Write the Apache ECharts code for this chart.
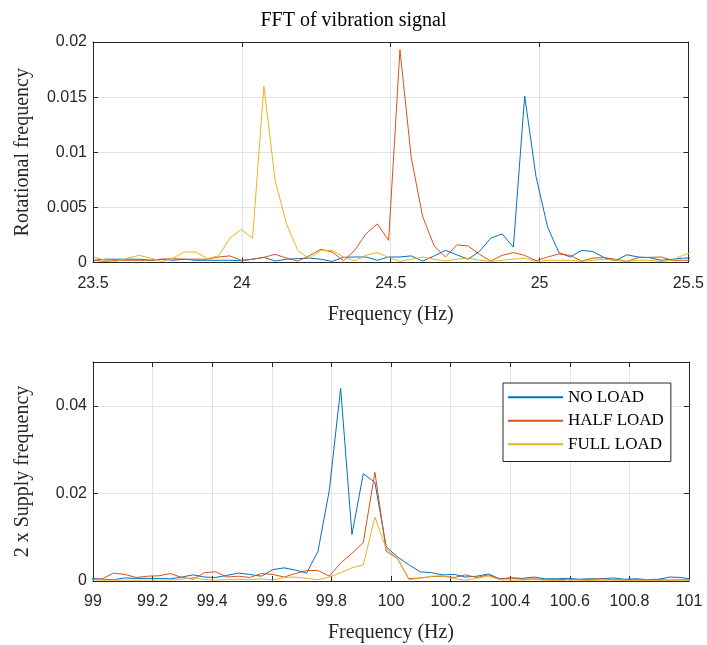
<!DOCTYPE html>
<html lang="en">
<head>
    <meta charset="UTF-8">
    <script src="https://cdn.jsdelivr.net/npm/echarts@6/dist/echarts.min.js"></script>
    <title>FFT of vibration signal</title>
    <style>
        html, body { margin: 0; padding: 0; background: #fff; }
        #chart { width: 707px; height: 645px; }
    </style>
</head>
<body>
<div id="chart"></div>
<script type="text/javascript">
    // top panel: around rotational frequency (Hz)
    var topFreq = [23.503, 23.541, 23.579, 23.617, 23.655, 23.693, 23.731, 23.769, 23.807, 23.846,
        23.884, 23.922, 23.960, 23.998, 24.036, 24.074, 24.112, 24.150, 24.188, 24.226,
        24.265, 24.303, 24.341, 24.379, 24.417, 24.455, 24.493, 24.531, 24.569, 24.607,
        24.646, 24.684, 24.722, 24.760, 24.798, 24.836, 24.874, 24.912, 24.950, 24.988,
        25.027, 25.065, 25.103, 25.141, 25.179, 25.217, 25.255, 25.293, 25.331, 25.369,
        25.408, 25.446, 25.484, 25.522];
    var topNoLoad = [0.0002, 0.0003, 0.0003, 0.0003, 0.0003, 0.0002, 0.0003, 0.0002, 0.0003, 0.0002,
        0.0002, 0.0002, 0.0002, 0.00016, 0.0003, 0.00047, 0.00013, 0.0003, 0.00035, 0.0004,
        0.0003, 0.0001, 0.00047, 0.0005, 0.0005, 0.0002, 0.0005, 0.0005, 0.0006, 0.00013,
        0.0006, 0.0011, 0.0007, 0.0003, 0.001, 0.0022, 0.0026, 0.0014, 0.0151, 0.0078,
        0.0032, 0.0009, 0.0005, 0.0011, 0.001, 0.00044, 0.00016, 0.0007, 0.0005, 0.00044,
        0.0002, 0.0003, 0.0004, 0.0004];
    var topHalfLoad = [0.0002, 0.0001, 0.0002, 0.0002, 0.0002, 0.0002, 0.0003, 0.00035, 0.0003, 0.0003,
        0.0003, 0.0005, 0.0006, 0.0002, 0.0003, 0.00047, 0.00074, 0.0004, 0.00013, 0.0006,
        0.0012, 0.00095, 0.00016, 0.0011, 0.0026, 0.0035, 0.002, 0.0193, 0.0095, 0.0042,
        0.0015, 0.0005, 0.0016, 0.0015, 0.00074, 0.00013, 0.00065, 0.0009, 0.00065, 0.00016,
        0.0005, 0.00077, 0.00065, 0.00013, 0.0004, 0.00044, 0.0003, 0.0001, 0.00044, 0.00047,
        0.0005, 0.0002, 0.0002, 0.0002];
    var topFullLoad = [0.0005, 0.0002, 0.0001, 0.0004, 0.00065, 0.0004, 0.0001, 0.0004, 0.00095, 0.00095,
        0.00035, 0.0006, 0.0022, 0.003, 0.0022, 0.016, 0.0074, 0.0035, 0.0011, 0.00035,
        0.0011, 0.0011, 0.0005, 0.00015, 0.00065, 0.0009, 0.00045, 0.0001, 0.0003, 0.0005,
        0.0003, 0.00013, 0.0003, 0.0004, 0.0002, 0.0001, 0.0002, 0.0003, 0.0004, 0.0001,
        0.0002, 0.0002, 0.0002, 0.0001, 0.0002, 0.0003, 0.0002, 0.0001, 0.0002, 0.0002,
        0.0001, 0.0002, 0.0007, 0.001];

    // bottom panel: around 2 x supply frequency (Hz)
    var botFreq = [98.993, 99.031, 99.069, 99.107, 99.145, 99.184, 99.222, 99.260, 99.298, 99.336,
        99.374, 99.412, 99.450, 99.488, 99.526, 99.565, 99.603, 99.641, 99.679, 99.717,
        99.755, 99.793, 99.831, 99.869, 99.907, 99.946, 99.984, 100.022, 100.060, 100.098,
        100.136, 100.174, 100.212, 100.250, 100.288, 100.327, 100.365, 100.403, 100.441, 100.479,
        100.517, 100.555, 100.593, 100.631, 100.669, 100.708, 100.746, 100.784, 100.822, 100.860,
        100.898, 100.936, 100.974, 101.012];
    var botNoLoad = [0.0006, 0.0004, 0.0003, 0.0007, 0.0006, 0.0006, 0.0006, 0.0005, 0.0009, 0.0014,
        0.0009, 0.0008, 0.0013, 0.0018, 0.0015, 0.0011, 0.0026, 0.003, 0.0025, 0.0018,
        0.0068, 0.0207, 0.044, 0.0106, 0.0245, 0.0225, 0.0078, 0.0055, 0.0037, 0.0021,
        0.0019, 0.0014, 0.0015, 0.0009, 0.0011, 0.0016, 0.0005, 0.0007, 0.0006, 0.0009,
        0.0005, 0.0005, 0.0006, 0.0004, 0.0005, 0.0005, 0.0007, 0.0004, 0.0005, 0.0003,
        0.0004, 0.0009, 0.0008, 0.0004];
    var botHalfLoad = [0.0003, 0.0005, 0.0018, 0.0015, 0.0008, 0.0011, 0.0012, 0.0017, 0.0008, 0.0004,
        0.0019, 0.0021, 0.0009, 0.0011, 0.0008, 0.0017, 0.0015, 0.0009, 0.0017, 0.0024,
        0.0024, 0.0011, 0.0041, 0.0063, 0.0088, 0.0248, 0.0068, 0.0051, 0.0005, 0.0007,
        0.001, 0.0011, 0.0008, 0.0014, 0.0008, 0.0014, 0.0004, 0.0007, 0.0004, 0.0005,
        0.0003, 0.0003, 0.0004, 0.0003, 0.0004, 0.0005, 0.0003, 0.0002, 0.0003, 0.0002,
        0.0003, 0.0002, 0.0003, 0.0002];
    var botFullLoad = [0.0003, 0.0002, 0.0002, 0.0002, 0.0002, 0.0002, 0.0002, 0.0002, 0.0004, 0.0008,
        0.0003, 0.0002, 0.0003, 0.0004, 0.0003, 0.0005, 0.0002, 0.0008, 0.0009, 0.0006,
        0.0003, 0.0009, 0.0019, 0.003, 0.0037, 0.0146, 0.0074, 0.0051, 0.0003, 0.0006,
        0.0011, 0.0012, 0.0005, 0.0002, 0.0006, 0.0011, 0.0003, 0.0002, 0.0002, 0.0003,
        0.0002, 0.0001, 0.0002, 0.0002, 0.0001, 0.0002, 0.0002, 0.0001, 0.0001, 0.0002,
        0.0001, 0.0002, 0.0002, 0.0002];

    var seriesNames = ['NO LOAD', 'HALF LOAD', 'FULL LOAD'];
    var colors = ['#0072BD', '#D95319', '#EDB120'];

    function pairs(xs, ys) {
        var out = [];
        for (var i = 0; i < xs.length; i++) out.push([xs[i], ys[i]]);
        return out;
    }

    var axisColor = '#262626';
    var serif = 'Liberation Serif';
    var sans = 'Liberation Sans';

    // main axis (with labels + grid lines) and a mirrored box axis
    function xMain(grid, min, max, step) {
        return {
            type: 'value', gridIndex: grid, position: 'bottom',
            min: min, max: max, interval: step,
            name: 'Frequency (Hz)', nameLocation: 'middle', nameGap: 42,
            nameTextStyle: { fontFamily: serif, fontSize: 20, color: axisColor },
            axisLine: { onZero: false, lineStyle: { color: axisColor, width: 1 } },
            axisTick: { inside: true, length: 5, lineStyle: { color: axisColor } },
            axisLabel: { fontFamily: sans, fontSize: 16, color: axisColor, margin: 13 },
            splitLine: { show: true, lineStyle: { color: '#e3e3e3', width: 1 } }
        };
    }
    function xBox(grid, min, max, step) {
        return {
            type: 'value', gridIndex: grid, position: 'top',
            min: min, max: max, interval: step,
            axisLine: { onZero: false, lineStyle: { color: axisColor, width: 1 } },
            axisTick: { inside: true, length: 5, lineStyle: { color: axisColor } },
            axisLabel: { show: false }, splitLine: { show: false }
        };
    }
    function yMain(grid, min, max, step, name) {
        return {
            type: 'value', gridIndex: grid, position: 'left',
            min: min, max: max, interval: step,
            name: name, nameLocation: 'middle', nameGap: 60,
            nameTextStyle: { fontFamily: serif, fontSize: 20, color: axisColor },
            axisLine: { show: true, onZero: false, lineStyle: { color: axisColor, width: 1 } },
            axisTick: { show: true, inside: true, length: 5, lineStyle: { color: axisColor } },
            axisLabel: { fontFamily: sans, fontSize: 16, color: axisColor, margin: 6, showMaxLabel: max === 0.02 },
            splitLine: { show: true, lineStyle: { color: '#e3e3e3', width: 1 } }
        };
    }
    function yBox(grid, min, max, step) {
        return {
            type: 'value', gridIndex: grid, position: 'right',
            min: min, max: max, interval: step,
            axisLine: { show: true, onZero: false, lineStyle: { color: axisColor, width: 1 } },
            axisTick: { show: true, inside: true, length: 5, lineStyle: { color: axisColor } },
            axisLabel: { show: false }, splitLine: { show: false }
        };
    }

    function lineSeries(name, color, xIdx, yIdx, data) {
        return {
            name: name, type: 'line', xAxisIndex: xIdx, yAxisIndex: yIdx,
            data: data, symbol: 'none', showSymbol: false, clip: true,
            lineStyle: { color: color, width: 1 }, itemStyle: { color: color },
            animation: false
        };
    }

    var myChart = echarts.init(document.getElementById('chart'));
    var option = {
        backgroundColor: '#ffffff',
        animation: false,
        title: {
            text: 'FFT of vibration signal',
            left: 'center', top: 6,
            textStyle: { fontFamily: serif, fontSize: 20, fontWeight: 'normal', color: '#000' }
        },
        legend: {
            data: seriesNames,
            orient: 'vertical',
            left: 503, top: 383,
            padding: [5, 7, 8, 5],
            itemGap: 5,
            itemWidth: 55, itemHeight: 2,
            icon: 'rect',
            backgroundColor: '#ffffff',
            borderColor: axisColor, borderWidth: 1, borderRadius: 0,
            textStyle: { fontFamily: serif, fontSize: 17, color: '#000', lineHeight: 18.5 }
        },
        grid: [
            { left: 93, top: 42, width: 596, height: 220.5, containLabel: false },
            { left: 93, top: 362, width: 596, height: 219, containLabel: false }
        ],
        xAxis: [
            xMain(0, 23.5, 25.5, 0.5), xBox(0, 23.5, 25.5, 0.5),
            xMain(1, 99, 101, 0.2), xBox(1, 99, 101, 0.2)
        ],
        yAxis: [
            yMain(0, 0, 0.02, 0.005, 'Rotational frequency'), yBox(0, 0, 0.02, 0.005),
            yMain(1, 0, 0.05, 0.02, '2 x Supply frequency'), yBox(1, 0, 0.05, 0.02)
        ],
        series: [
            lineSeries(seriesNames[0], colors[0], 0, 0, pairs(topFreq, topNoLoad)),
            lineSeries(seriesNames[1], colors[1], 0, 0, pairs(topFreq, topHalfLoad)),
            lineSeries(seriesNames[2], colors[2], 0, 0, pairs(topFreq, topFullLoad)),
            lineSeries(seriesNames[0], colors[0], 2, 2, pairs(botFreq, botNoLoad)),
            lineSeries(seriesNames[1], colors[1], 2, 2, pairs(botFreq, botHalfLoad)),
            lineSeries(seriesNames[2], colors[2], 2, 2, pairs(botFreq, botFullLoad))
        ]
    };
    myChart.setOption(option);
</script>
</body>
</html>
